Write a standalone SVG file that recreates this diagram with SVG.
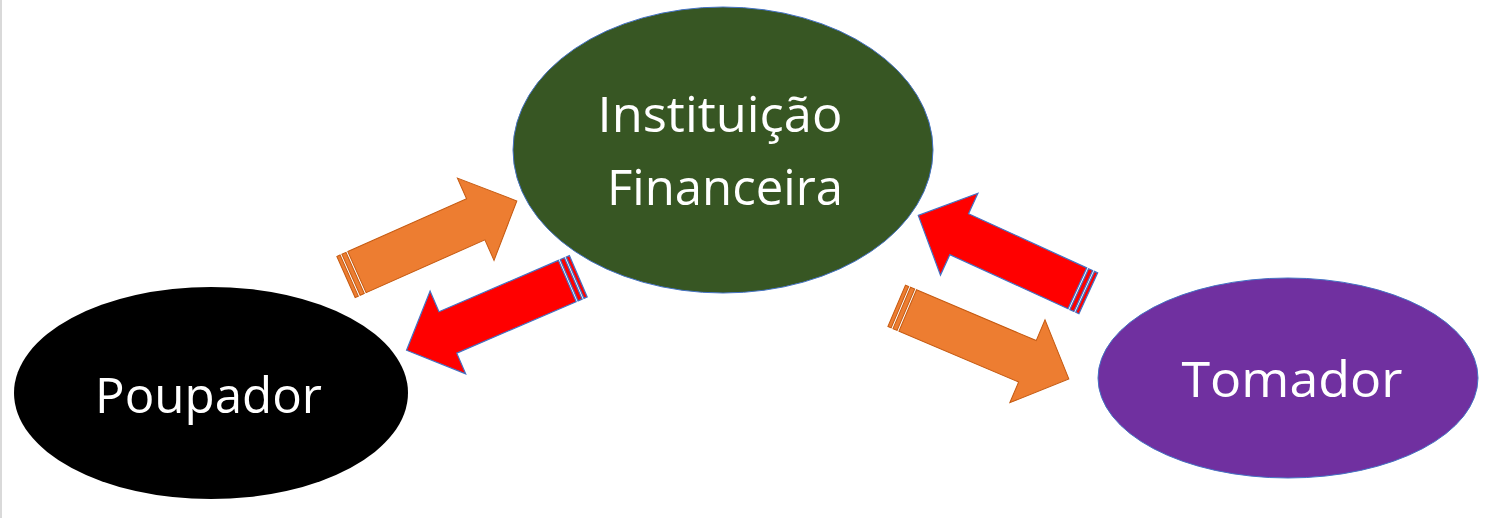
<svg xmlns="http://www.w3.org/2000/svg" xmlns:xlink="http://www.w3.org/1999/xlink" width="1497" height="518" viewBox="0 0 1497 518">
  <style>
    .lbl { font-family: "Open Sans", "Noto Sans", "Liberation Sans", sans-serif; font-size: 50px; fill: #ffffff; text-anchor: middle; }
    .node { stroke: #4472c4; stroke-width: 1; }
    .orange { fill: #ed7d31; stroke: #c55a11; stroke-width: 1; }
    .red { fill: #ff0000; stroke: #4472c4; stroke-width: 1.2; }
  </style>
  <defs>
    <path id="striped" d="M0,-22.5 h3.5 v45 h-3.5 Z M5.5,-22.5 h4.5 v45 h-4.5 Z M12,-22.5 H142 V-45 L187,0 L142,45 V22.5 H12 Z"/>
  </defs>
  <rect x="0" y="0" width="1497" height="518" fill="#ffffff"/>
  <rect x="0" y="0" width="2" height="518" fill="#d9d9d9"/>

  <g id="instituicao">
    <ellipse class="node" cx="723" cy="150" rx="210" ry="143" fill="#375623"/>
    <text class="lbl" x="720" y="132" textLength="245" lengthAdjust="spacingAndGlyphs">Instituição</text>
    <text class="lbl" x="725" y="205" textLength="236" lengthAdjust="spacingAndGlyphs">Financeira</text>
  </g>

  <g id="poupador">
    <ellipse cx="211" cy="393" rx="197" ry="106" fill="#000000"/>
    <text class="lbl" x="208.5" y="413" textLength="227" lengthAdjust="spacingAndGlyphs">Poupador</text>
  </g>

  <g id="tomador">
    <ellipse class="node" cx="1288" cy="378" rx="190" ry="100" fill="#7030a0"/>
    <text class="lbl" x="1292" y="397" textLength="221" lengthAdjust="spacingAndGlyphs">Tomador</text>
  </g>

  <g id="connectors">
    <use xlink:href="#striped" class="orange" transform="translate(346,277) rotate(-24)"/>
    <use xlink:href="#striped" class="red" transform="translate(578.3,276.3) rotate(156.7)"/>
    <use xlink:href="#striped" class="orange" transform="translate(896.7,305.8) rotate(23)"/>
    <use xlink:href="#striped" class="red" transform="translate(1088.3,293.3) rotate(204.6)"/>
  </g>
</svg>
